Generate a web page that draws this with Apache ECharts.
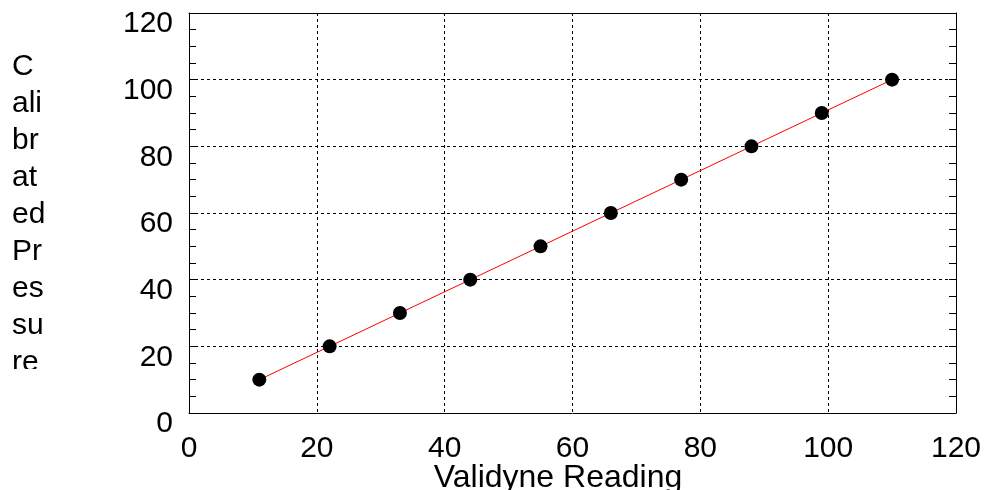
<!DOCTYPE html>
<html>
<head>
<meta charset="utf-8">
<script src="https://cdn.jsdelivr.net/npm/echarts@6/dist/echarts.min.js"></script>
<style>
  html, body { margin: 0; padding: 0; background: #fff; }
  #chart { width: 989px; height: 490px; }
</style>
</head>
<body>
<div id="chart"></div>
<script>
// ---- data ----
const validyneReading = [11, 22, 33, 44, 55, 66, 77, 88, 99, 110];
const calibratedPressure = [10, 20, 30, 40, 50, 60, 70, 80, 90, 100];
const xTicks = [0, 20, 40, 60, 80, 100, 120];
const yTicks = [0, 20, 40, 60, 80, 100, 120];
const xTitle = 'Validyne Reading';
const yTitleLines = ['C', 'ali', 'br', 'at', 'ed', 'Pr', 'es', 'su', 're'];

const FONT = 'Liberation Sans, Arial, sans-serif';
const points = validyneReading.map((x, i) => [x, calibratedPressure[i]]);

const chart = echarts.init(document.getElementById('chart'), null, { renderer: 'canvas' });

const gridDash = { color: '#000', width: 1, type: [3, 3] };
const boxLine = { show: true, onZero: false, lineStyle: { color: '#000', width: 1 } };

chart.setOption({
  animation: false,
  backgroundColor: '#fff',
  grid: { left: 189, right: 33, top: 13, bottom: 77, containLabel: false, outerBoundsMode: 'none' },
  xAxis: [
    {
      type: 'value',
      position: 'bottom',
      min: xTicks[0],
      max: xTicks[xTicks.length - 1],
      interval: xTicks[1] - xTicks[0],
      axisLine: boxLine,
      axisTick: { show: false },
      splitLine: { show: true, lineStyle: gridDash },
      axisLabel: { color: '#000', fontSize: 30, fontFamily: FONT, margin: 21 },
      name: xTitle,
      nameLocation: 'middle',
      nameGap: 49,
      nameMoveOverlap: false,
      nameTextStyle: { color: '#000', fontSize: 32, fontFamily: FONT, padding: [0, 29, 0, 0] }
    },
    {
      type: 'value',
      position: 'top',
      min: xTicks[0],
      max: xTicks[xTicks.length - 1],
      interval: xTicks[1] - xTicks[0],
      axisLine: boxLine,
      axisTick: { show: false },
      axisLabel: { show: false },
      splitLine: { show: false }
    }
  ],
  yAxis: [
    {
      type: 'value',
      position: 'left',
      min: yTicks[0],
      max: yTicks[yTicks.length - 1],
      interval: yTicks[1] - yTicks[0],
      axisLine: boxLine,
      axisTick: { show: true, inside: true, length: 7, lineStyle: { color: '#000' } },
      minorTick: { show: true, splitNumber: 4, length: 7, lineStyle: { color: '#000', width: 1 } },
      splitLine: { show: true, lineStyle: gridDash },
      axisLabel: { color: '#000', fontSize: 30, fontFamily: FONT, margin: 16, verticalAlign: 'top', lineHeight: 22 }
    },
    {
      type: 'value',
      position: 'right',
      min: yTicks[0],
      max: yTicks[yTicks.length - 1],
      interval: yTicks[1] - yTicks[0],
      axisLine: boxLine,
      axisTick: { show: true, inside: true, length: 7, lineStyle: { color: '#000' } },
      minorTick: { show: true, splitNumber: 4, length: 7, lineStyle: { color: '#000', width: 1 } },
      splitLine: { show: false },
      axisLabel: { show: false }
    }
  ],
  graphic: [
    {
      type: 'text',
      left: 12,
      top: 48,
      z: 10,
      style: {
        text: yTitleLines.join('\n'),
        fill: '#000',
        font: '30px ' + FONT,
        lineHeight: 37
      }
    },
    {
      type: 'rect',
      left: 0,
      top: 369,
      z: 20,
      shape: { width: 110, height: 40 },
      style: { fill: '#fff' }
    }
  ],
  series: [
    {
      type: 'line',
      data: points,
      xAxisIndex: 0,
      yAxisIndex: 0,
      showSymbol: false,
      symbol: 'none',
      lineStyle: { color: '#ff0000', width: 1 },
      z: 2
    },
    {
      type: 'scatter',
      data: points,
      xAxisIndex: 0,
      yAxisIndex: 0,
      symbol: 'circle',
      symbolSize: 14,
      itemStyle: { color: '#000', opacity: 1 },
      z: 3
    }
  ]
});
</script>
</body>
</html>
